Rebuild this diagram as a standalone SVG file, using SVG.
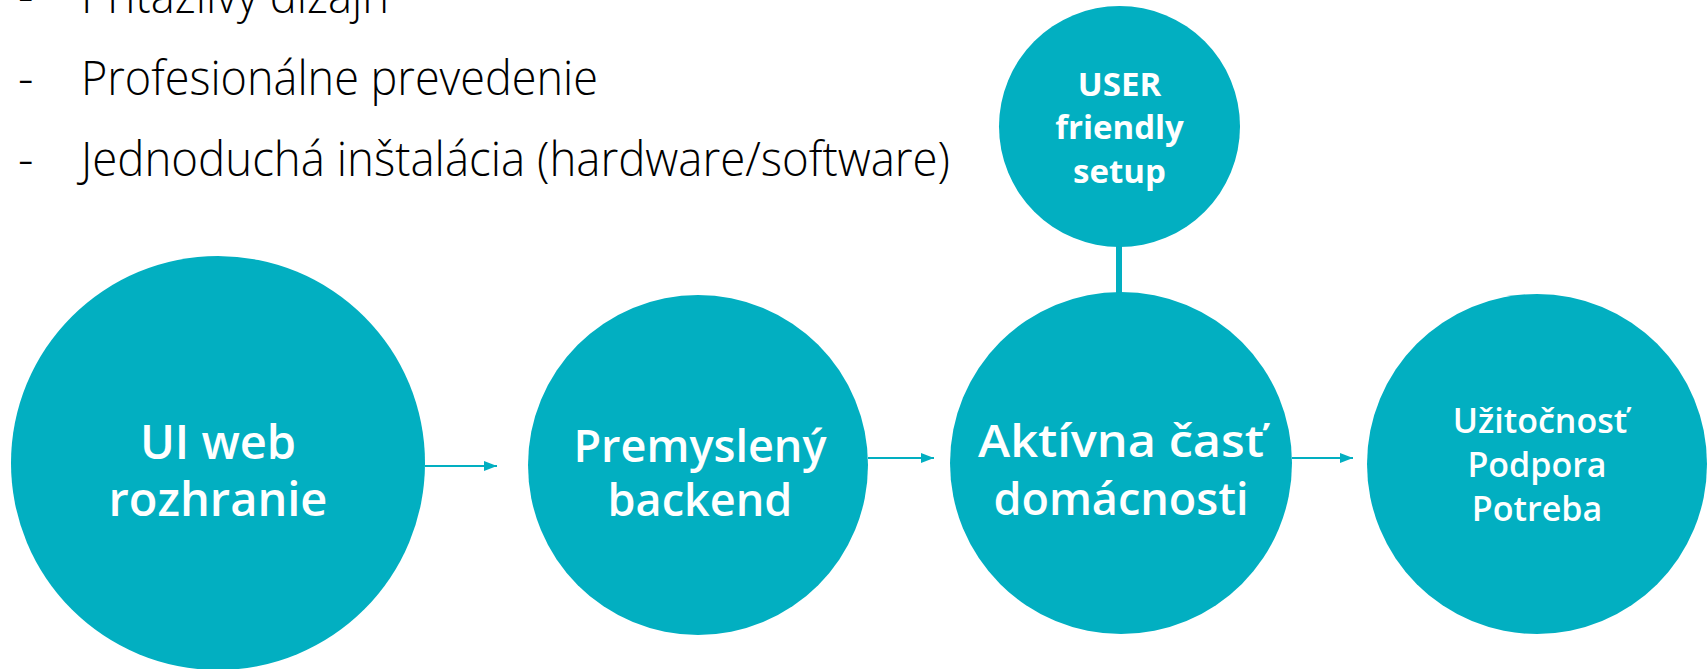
<svg xmlns="http://www.w3.org/2000/svg" width="1708" height="669" viewBox="0 0 1708 669">
<defs>
<style>
.node { fill: #02AFC1; }
.lbl { fill: #ffffff; font-family: "Open Sans", "Noto Sans", "Liberation Sans", sans-serif; font-weight: 600; text-anchor: middle; }
.lbl-big { font-size: 47px; }
.lbl-mid { font-size: 45px; }
.lbl-sm { font-size: 34px; }
.lbl-bold { font-size: 33px; font-weight: 700; }
.bullet { fill: #000000; font-family: "Open Sans", "Noto Sans", "Liberation Sans", sans-serif; font-weight: 300; font-size: 48px; }
.conn { stroke: #02AFC1; stroke-width: 2; fill: none; }
.stem { stroke: #02AFC1; stroke-width: 6; fill: none; }
</style>
<marker id="arrow" viewBox="0 0 13 10" refX="13" refY="5" markerWidth="13" markerHeight="10" markerUnits="userSpaceOnUse" orient="auto">
<path d="M0,0 L13,5 L0,10 Z" fill="#02AFC1"/>
</marker>
</defs>
<rect width="1708" height="669" fill="#ffffff"/>

<g id="bullets">
<text class="bullet" x="18" y="13">-</text>
<text class="bullet" x="81" y="13" textLength="308" lengthAdjust="spacingAndGlyphs">Príťažlivý dizajn</text>
<text class="bullet" x="18" y="95">-</text>
<text class="bullet" x="81" y="95" textLength="517" lengthAdjust="spacingAndGlyphs">Profesionálne prevedenie</text>
<text class="bullet" x="18" y="176">-</text>
<text class="bullet" x="81" y="176" textLength="869" lengthAdjust="spacingAndGlyphs">Jednoduchá inštalácia (hardware/software)</text>
</g>

<g id="connectors">
<line class="stem" x1="1119" y1="245" x2="1119" y2="296"/>
<line class="conn" x1="425" y1="466" x2="497" y2="466" marker-end="url(#arrow)"/>
<line class="conn" x1="868" y1="458" x2="934" y2="458" marker-end="url(#arrow)"/>
<line class="conn" x1="1292" y1="458" x2="1353" y2="458" marker-end="url(#arrow)"/>
</g>

<g id="node-ui">
<circle class="node" cx="218" cy="463" r="207"/>
<text class="lbl lbl-big" x="218" y="459">UI web</text>
<text class="lbl lbl-big" x="218" y="516">rozhranie</text>
</g>

<g id="node-backend">
<circle class="node" cx="698" cy="465" r="170"/>
<text class="lbl lbl-mid" x="700" y="462">Premyslený</text>
<text class="lbl lbl-mid" x="700" y="516">backend</text>
</g>

<g id="node-active">
<circle class="node" cx="1121" cy="463" r="171"/>
<text class="lbl lbl-mid" x="1121" y="457" textLength="286" lengthAdjust="spacingAndGlyphs">Aktívna časť</text>
<text class="lbl lbl-mid" x="1121" y="515">domácnosti</text>
</g>

<g id="node-usefulness">
<circle class="node" cx="1537" cy="464" r="170"/>
<text class="lbl lbl-sm" x="1540" y="433">Užitočnosť</text>
<text class="lbl lbl-sm" x="1537" y="477">Podpora</text>
<text class="lbl lbl-sm" x="1537" y="521">Potreba</text>
</g>

<g id="node-user">
<circle class="node" cx="1119.5" cy="126.5" r="120.5"/>
<text class="lbl lbl-bold" x="1119.5" y="96">USER</text>
<text class="lbl lbl-bold" x="1119.5" y="139">friendly</text>
<text class="lbl lbl-bold" x="1119.5" y="183">setup</text>
</g>
</svg>
